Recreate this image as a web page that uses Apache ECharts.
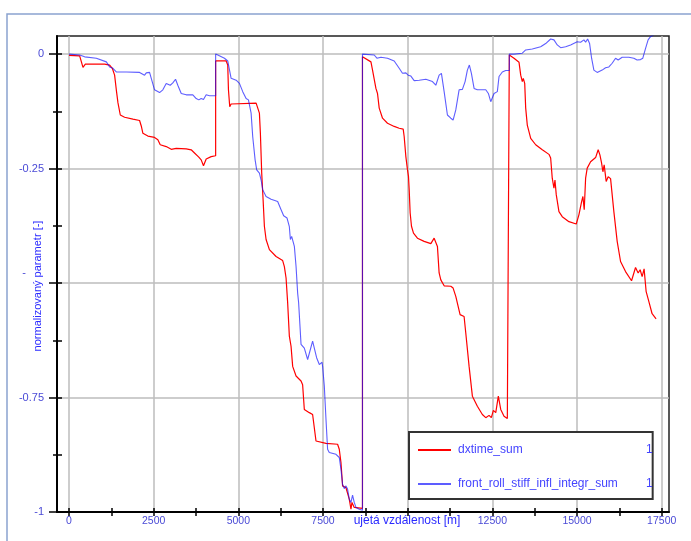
<!DOCTYPE html>
<html><head><meta charset="utf-8">
<script src="https://cdn.jsdelivr.net/npm/echarts@6/dist/echarts.min.js"></script>
<style>html,body{margin:0;padding:0;background:#fff}#c{width:691px;height:541px}</style>
</head><body><div id="c"></div>
<script>
const seriesNames = ['dxtime_sum', 'front_roll_stiff_infl_integr_sum'];
const legendValues = ['1', '1'];

const xTickValues = [0, 2500, 5000, 7500, 10000, 12500, 15000, 17500];
const xTickLabels = ['0', '2500', '5000', '7500', '', '12500', '15000', '17500'];
const xMinorTicks = [1250, 3750, 6250, 8750, 11250, 13750, 16250];
const yTickValues = [0, -0.25, -0.5, -0.75, -1];
const yTickLabels = ['0', '-0.25', '-', '-0.75', '-1'];
const yMinorTicks = [-0.125, -0.375, -0.625, -0.875];
const xRange = [-354, 17715];
const yRange = [-1, 0.0395];

const dxtimeSum = [
[0,-0.003],[315,-0.004],[413,-0.029],[483,-0.022],[1052,-0.022],[1200,-0.024],[1279,-0.031],[1347,-0.046],[1397,-0.078],[1445,-0.106],[1515,-0.133],[1642,-0.138],[1887,-0.142],[2084,-0.145],[2134,-0.157],[2182,-0.173],[2329,-0.179],[2526,-0.182],[2624,-0.187],[2694,-0.198],[2871,-0.202],[3019,-0.208],[3166,-0.206],[3461,-0.207],[3608,-0.209],[3706,-0.216],[3832,-0.225],[3903,-0.231],[3971,-0.244],[4051,-0.229],[4198,-0.224],[4330,-0.222],
[4330,-0.015],[4640,-0.015],[4687,-0.024],[4708,-0.078],[4746,-0.115],[4787,-0.109],[5525,-0.107],[5572,-0.111],[5622,-0.129],[5651,-0.173],[5690,-0.260],[5731,-0.318],[5769,-0.376],[5819,-0.405],[5917,-0.427],[6114,-0.442],[6309,-0.451],[6359,-0.464],[6409,-0.489],[6456,-0.543],[6506,-0.616],[6556,-0.638],[6604,-0.682],[6704,-0.703],[6851,-0.714],[6898,-0.722],[6948,-0.776],[6998,-0.780],[7096,-0.783],[7193,-0.787],[7243,-0.791],[7293,-0.845],[7341,-0.847],[7588,-0.850],[7930,-0.852],[7980,-0.863],[8030,-0.892],[8078,-0.943],[8178,-0.947],[8225,-0.943],[8275,-0.972],[8325,-0.994],[8355,-0.979],[8422,-0.990],[8665,-0.992],
[8665,-0.006],[8915,-0.017],[8962,-0.035],[9062,-0.075],[9109,-0.086],[9159,-0.118],[9257,-0.140],[9404,-0.151],[9602,-0.158],[9749,-0.162],[9867,-0.164],[9896,-0.180],[9946,-0.224],[9994,-0.253],[10023,-0.267],[10044,-0.296],[10073,-0.347],[10112,-0.376],[10171,-0.391],[10288,-0.402],[10486,-0.409],[10684,-0.414],[10781,-0.402],[10831,-0.398],[10878,-0.420],[10928,-0.478],[10978,-0.493],[11076,-0.506],[11273,-0.507],[11341,-0.511],[11420,-0.529],[11468,-0.533],[11547,-0.569],[11665,-0.573],[11715,-0.609],[11813,-0.682],[11910,-0.747],[12057,-0.769],[12205,-0.787],[12305,-0.794],[12402,-0.789],[12470,-0.794],[12529,-0.778],[12600,-0.783],[12676,-0.747],[12747,-0.776],[12844,-0.791],[12942,-0.796],[13000,-0.800],
[13000,-0.002],[13139,-0.009],[13287,-0.018],[13337,-0.046],[13384,-0.060],[13413,-0.053],[13455,-0.064],[13484,-0.118],[13531,-0.155],[13632,-0.184],[13779,-0.198],[13974,-0.209],[14171,-0.219],[14221,-0.227],[14268,-0.271],[14318,-0.293],[14348,-0.275],[14386,-0.307],[14466,-0.344],[14563,-0.355],[14761,-0.366],[14976,-0.371],[15055,-0.351],[15135,-0.322],[15173,-0.311],[15212,-0.340],[15253,-0.271],[15300,-0.249],[15400,-0.235],[15548,-0.226],[15624,-0.209],[15675,-0.220],[15725,-0.238],[15763,-0.257],[15801,-0.242],[15860,-0.278],[15919,-0.268],[15990,-0.272],[16087,-0.344],[16185,-0.409],[16285,-0.453],[16432,-0.475],[16609,-0.495],[16727,-0.466],[16804,-0.478],[16863,-0.471],[16922,-0.486],[16980,-0.469],[17039,-0.518],[17119,-0.540],[17216,-0.567],[17334,-0.578]
];

const frontRollStiffInflIntegrSum = [
[0,0],[315,-0.002],[463,-0.006],[808,-0.009],[1103,-0.017],[1200,-0.028],[1297,-0.031],[1397,-0.039],[1445,-0.037],[1692,-0.039],[2084,-0.040],[2232,-0.046],[2282,-0.041],[2329,-0.044],[2379,-0.040],[2429,-0.053],[2526,-0.078],[2674,-0.084],[2771,-0.078],[2871,-0.064],[2989,-0.068],[3066,-0.063],[3146,-0.055],[3213,-0.068],[3314,-0.086],[3461,-0.089],[3656,-0.089],[3756,-0.097],[3832,-0.100],[3903,-0.097],[3971,-0.099],[4051,-0.089],[4148,-0.091],[4330,-0.091],
[4330,0],[4393,-0.002],[4590,-0.009],[4687,-0.015],[4787,-0.053],[4935,-0.057],[5032,-0.064],[5130,-0.082],[5230,-0.097],[5298,-0.100],[5377,-0.129],[5424,-0.180],[5495,-0.231],[5542,-0.253],[5622,-0.260],[5672,-0.275],[5719,-0.296],[5819,-0.311],[5967,-0.317],[6161,-0.322],[6262,-0.340],[6338,-0.353],[6438,-0.358],[6506,-0.377],[6536,-0.405],[6574,-0.398],[6604,-0.395],[6654,-0.420],[6704,-0.464],[6751,-0.522],[6780,-0.543],[6851,-0.634],[6948,-0.642],[7046,-0.667],[7096,-0.666],[7193,-0.627],[7243,-0.642],[7311,-0.663],[7391,-0.678],[7470,-0.673],[7488,-0.682],[7538,-0.725],[7588,-0.798],[7635,-0.863],[7685,-0.870],[7883,-0.874],[7980,-0.881],[8030,-0.907],[8078,-0.940],[8128,-0.949],[8178,-0.943],[8225,-0.950],[8275,-0.972],[8325,-0.979],[8372,-0.963],[8422,-0.979],[8473,-0.990],[8570,-0.994],[8665,-0.996],
[8665,0],[9012,-0.002],[9091,-0.009],[9210,-0.007],[9404,-0.009],[9602,-0.015],[9749,-0.031],[9846,-0.042],[9946,-0.041],[10014,-0.046],[10044,-0.049],[10094,-0.048],[10191,-0.058],[10339,-0.057],[10536,-0.055],[10731,-0.060],[10831,-0.068],[10878,-0.071],[10928,-0.046],[10996,-0.042],[11076,-0.082],[11173,-0.133],[11273,-0.140],[11341,-0.144],[11420,-0.122],[11518,-0.078],[11615,-0.077],[11695,-0.060],[11762,-0.035],[11821,-0.024],[11881,-0.042],[11960,-0.075],[12057,-0.078],[12305,-0.078],[12382,-0.086],[12452,-0.104],[12500,-0.100],[12550,-0.086],[12647,-0.082],[12697,-0.049],[12794,-0.039],[12894,-0.036],[13000,-0.036],
[13000,0],[13139,0],[13384,0.002],[13484,0.009],[13679,0.011],[13926,0.016],[14074,0.023],[14221,0.033],[14318,0.031],[14416,0.020],[14516,0.014],[14663,0.016],[14810,0.020],[15005,0.027],[15105,0.026],[15203,0.031],[15253,0.026],[15312,0.033],[15371,0.023],[15430,-0.009],[15497,-0.035],[15595,-0.040],[15742,-0.035],[15842,-0.030],[15940,-0.028],[16037,-0.020],[16137,-0.009],[16214,-0.013],[16332,-0.007],[16529,-0.007],[16677,-0.009],[16774,-0.013],[16874,-0.012],[16942,-0.009],[17021,0.012],[17098,0.031],[17169,0.038],[17266,0.042]
];

const FONT = 'Liberation Sans, Arial, sans-serif';
const LABEL_COLOR = '#4a4ad6';
const TITLE_COLOR = '#2a2aff';

function labelFor(values, labels, v) {
  for (let i = 0; i < values.length; i++) if (Math.abs(values[i] - v) < 1e-9) return labels[i];
  return '';
}
function sorted(a) { return a.slice().sort(function (p, q) { return p - q; }); }

const xAllTicks = sorted(xTickValues.concat(xMinorTicks));
const yAllTicks = sorted(yTickValues.concat(yMinorTicks));

const chart = echarts.init(document.getElementById('c'), null, {renderer: 'canvas'});
const tickLine = {color: '#000', width: 1.5};
const baseX = {type: 'value', min: xRange[0], max: xRange[1], position: 'bottom', splitLine: {show: false}, z: 10};
const baseY = {type: 'value', min: yRange[0], max: yRange[1], position: 'left', splitLine: {show: false}, z: 10};

chart.setOption({
  animation: false,
  backgroundColor: '#fff',
  graphic: [{
    type: 'polyline', silent: true, z: -1,
    shape: {points: [[7, 541], [7, 14], [691, 14]]},
    style: {stroke: '#8aa3cf', lineWidth: 1.5, fill: null}
  }],
  grid: {left: 57, top: 36, right: 22, bottom: 29, show: true, borderColor: '#222', borderWidth: 1.5, backgroundColor: 'transparent'},
  legend: {
    orient: 'vertical', left: 409, top: 432, z: 20,
    data: seriesNames,
    padding: [12, 0, 9, 8], itemGap: 22, itemWidth: 33, itemHeight: 14,
    backgroundColor: '#fff', borderColor: '#333', borderWidth: 2,
    itemStyle: {opacity: 0, borderWidth: 0},
    formatter: function (name) { return '{n|' + name + '}{v|' + legendValues[seriesNames.indexOf(name)] + '}'; },
    textStyle: {
      fontFamily: FONT, fontSize: 12, color: '#4444ff',
      rich: {
        n: {width: 188, fontFamily: FONT, fontSize: 12, color: '#4444ff', padding: [0, 0, 0, 2]},
        v: {fontFamily: FONT, fontSize: 12, color: '#4444ff'}
      }
    }
  },
  xAxis: [
    Object.assign({}, baseX, {
      axisLine: {show: true, onZero: false, lineStyle: {color: '#000', width: 2}},
      axisTick: {show: true, customValues: xAllTicks, length: 4, lineStyle: tickLine},
      axisLabel: {show: true, customValues: xTickValues, margin: 4, color: LABEL_COLOR, fontSize: 10.5, fontFamily: FONT,
        formatter: function (v) { return labelFor(xTickValues, xTickLabels, v); }},
      name: 'ujetá vzdálenost [m]', nameLocation: 'middle', nameGap: 3, nameMoveOverlap: false,
      nameTextStyle: {color: TITLE_COLOR, fontSize: 12, fontFamily: FONT, padding: [0, 0, 0, 88]}
    }),
    Object.assign({}, baseX, {
      axisLine: {show: false, onZero: false},
      axisTick: {show: true, inside: true, customValues: xAllTicks, length: 4, lineStyle: tickLine},
      axisLabel: {show: false}
    })
  ],
  yAxis: [
    Object.assign({}, baseY, {
      axisLine: {show: true, onZero: false, lineStyle: {color: '#000', width: 2}},
      axisTick: {show: true, customValues: yTickValues, length: 8, lineStyle: tickLine},
      axisLabel: {show: true, customValues: yTickValues, margin: 13, color: LABEL_COLOR, fontSize: 11, fontFamily: FONT,
        formatter: function (v) {
          const t = labelFor(yTickValues, yTickLabels, v);
          return t === '-' ? '{m|-}' : t;
        },
        rich: {m: {color: LABEL_COLOR, fontSize: 11, fontFamily: FONT, padding: [0, 18, 20, 0]}}},
      name: 'normalizovaný parametr [-]', nameLocation: 'middle', nameGap: 14, nameMoveOverlap: false,
      nameTextStyle: {color: TITLE_COLOR, fontSize: 11, fontFamily: FONT, padding: [0, 24, 0, 0]}
    }),
    Object.assign({}, baseY, {
      axisLine: {show: false, onZero: false},
      axisTick: {show: true, inside: true, customValues: yAllTicks, length: 5, lineStyle: tickLine},
      axisLabel: {show: false}
    }),
    Object.assign({}, baseY, {
      axisLine: {show: false, onZero: false},
      axisTick: {show: true, customValues: yMinorTicks, length: 4, lineStyle: tickLine},
      axisLabel: {show: false}
    })
  ],
  series: [
    {
      name: '__grid', type: 'line', data: [], silent: true, z: 1,
      markLine: {
        silent: true, z: 1, symbol: 'none', animation: false, label: {show: false},
        lineStyle: {color: '#bcbcbc', width: 1.5, type: 'solid'},
        emphasis: {disabled: true},
        data: xTickValues.map(function (v) { return {xAxis: v}; })
          .concat(yTickValues.filter(function (v) { return v > yRange[0]; }).map(function (v) { return {yAxis: v}; }))
      }
    },
    {
      name: seriesNames[0], type: 'line', data: dxtimeSum, symbol: 'none', showSymbol: false, z: 3,
      lineStyle: {color: '#ff0000', width: 1.2}, itemStyle: {color: '#ff0000'}
    },
    {
      name: seriesNames[1], type: 'line', data: frontRollStiffInflIntegrSum, symbol: 'none', showSymbol: false, z: 4,
      lineStyle: {color: '#1010ff', width: 1.1, opacity: 0.68}, itemStyle: {color: '#1010ff'}
    }
  ]
});
</script>
</body></html>
